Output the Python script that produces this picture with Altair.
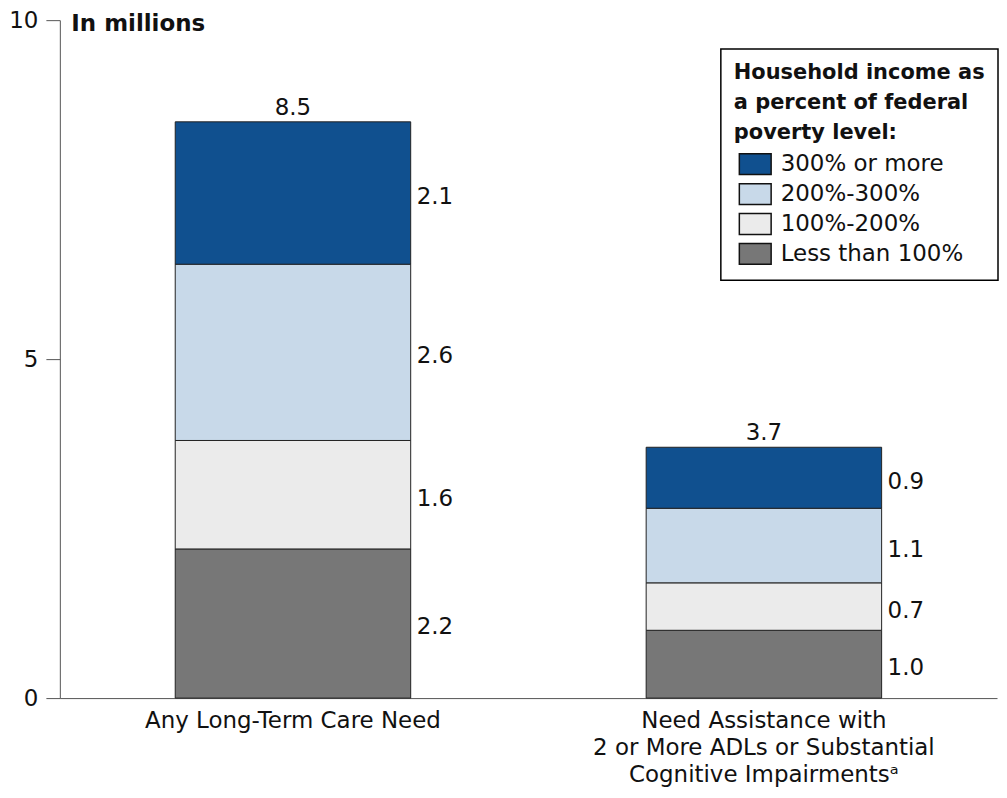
import altair as alt
import pandas as pd

categories = [
    "Any Long-Term Care Need",
    "Need Assistance with|2 or More ADLs or Substantial|Cognitive Impairmentsᵃ",
]
income_groups = ["Less than 100%", "100%-200%", "200%-300%", "300% or more"]
any_ltc_values = [2.2, 1.6, 2.6, 2.1]
adl_values = [1.0, 0.7, 1.1, 0.9]
legend_order = ["300% or more", "200%-300%", "100%-200%", "Less than 100%"]
legend_colors = ["#10508f", "#c8d9e9", "#ebebeb", "#777777"]
y_ticks = [0, 5, 10]

rows = []
for cat, vals in zip(categories, [any_ltc_values, adl_values]):
    for rank, (grp, v) in enumerate(zip(income_groups, vals)):
        rows.append({"category": cat, "group": grp, "value": v, "rank": rank})
df = pd.DataFrame(rows)

FONT = "DejaVu Sans"

xenc = alt.X(
    "category:N",
    sort=categories,
    scale=alt.Scale(paddingInner=0.5, paddingOuter=0.245),
    axis=alt.Axis(
        title=None,
        labelAngle=0,
        ticks=False,
        labelPadding=12,
        labelFontSize=23,
        labelLineHeight=27,
        labelBaseline="top",
        labelColor="#111",
        labelLimit=0,
        domainColor="#555",
        labelExpr="split(datum.label, '|')",
    ),
)

base = alt.Chart(df).transform_stack(
    stack="value",
    groupby=["category"],
    sort=[alt.SortField("rank", order="ascending")],
    as_=["y0", "y1"],
).transform_calculate(mid="(datum.y0 + datum.y1) / 2")

bars = base.mark_bar(stroke="#222", strokeWidth=1).encode(
    x=xenc,
    y=alt.Y(
        "y0:Q",
        scale=alt.Scale(domain=[0, 10], nice=False),
        axis=alt.Axis(
            values=y_ticks,
            format="d",
            grid=False,
            tickSize=14,
            tickColor="#555",
            domainColor="#555",
            labelPadding=8,
            labelFontSize=23,
            labelColor="#111",
            title="In millions",
            titleAngle=0,
            titleAlign="left",
            titleBaseline="middle",
            titleX=11,
            titleY=3,
            titleFontSize=23,
            titleFontWeight="bold",
            titleColor="#111",
        ),
    ),
    y2="y1:Q",
    color=alt.Color(
        "group:N",
        scale=alt.Scale(domain=legend_order, range=legend_colors),
        legend=alt.Legend(
            title=["Household income as", "a percent of federal", "poverty level:"],
            orient="none",
            legendX=663,
            legendY=29,
            padding=13,
            strokeColor="black",
            fillColor="white",
            titleFontSize=21,
            titleFontWeight="bold",
            titleLineHeight=30,
            titleColor="#111",
            titlePadding=6,
            titleLimit=0,
            labelFontSize=23,
            labelColor="#111",
            labelOffset=10,
            labelLimit=0,
            symbolType="M-1.1,-0.72H1.1V0.72H-1.1Z",
            symbolSize=841,
            symbolStrokeColor="#111",
            symbolStrokeWidth=1.5,
            symbolOpacity=1,
            symbolOffset=6,
            rowPadding=1,
        ),
    ),
    order=alt.Order("rank:Q", sort="ascending"),
)

seg_labels = base.mark_text(
    align="left", baseline="middle", dx=6, dy=4, fontSize=23, color="#111"
).encode(
    x=alt.X("category:N", sort=categories, bandPosition=1),
    y=alt.Y("mid:Q"),
    text=alt.Text("value:Q", format=".1f"),
)

totals = alt.Chart(df).transform_aggregate(
    total="sum(value)", groupby=["category"]
).mark_text(baseline="bottom", dy=-2, fontSize=23, color="#111").encode(
    x=alt.X("category:N", sort=categories),
    y=alt.Y("total:Q"),
    text=alt.Text("total:Q", format=".1f"),
)

chart = (
    alt.layer(bars, seg_labels, totals)
    .properties(
        width=940,
        height=680,
        padding={"left": 0, "top": 0, "right": 0, "bottom": 0},
    )
    .configure(font=FONT)
    .configure_view(stroke=None)
    .configure_legend(strokeWidth=1.5)
)

chart.save("out.html", embed_options={"renderer": "svg", "actions": False})
